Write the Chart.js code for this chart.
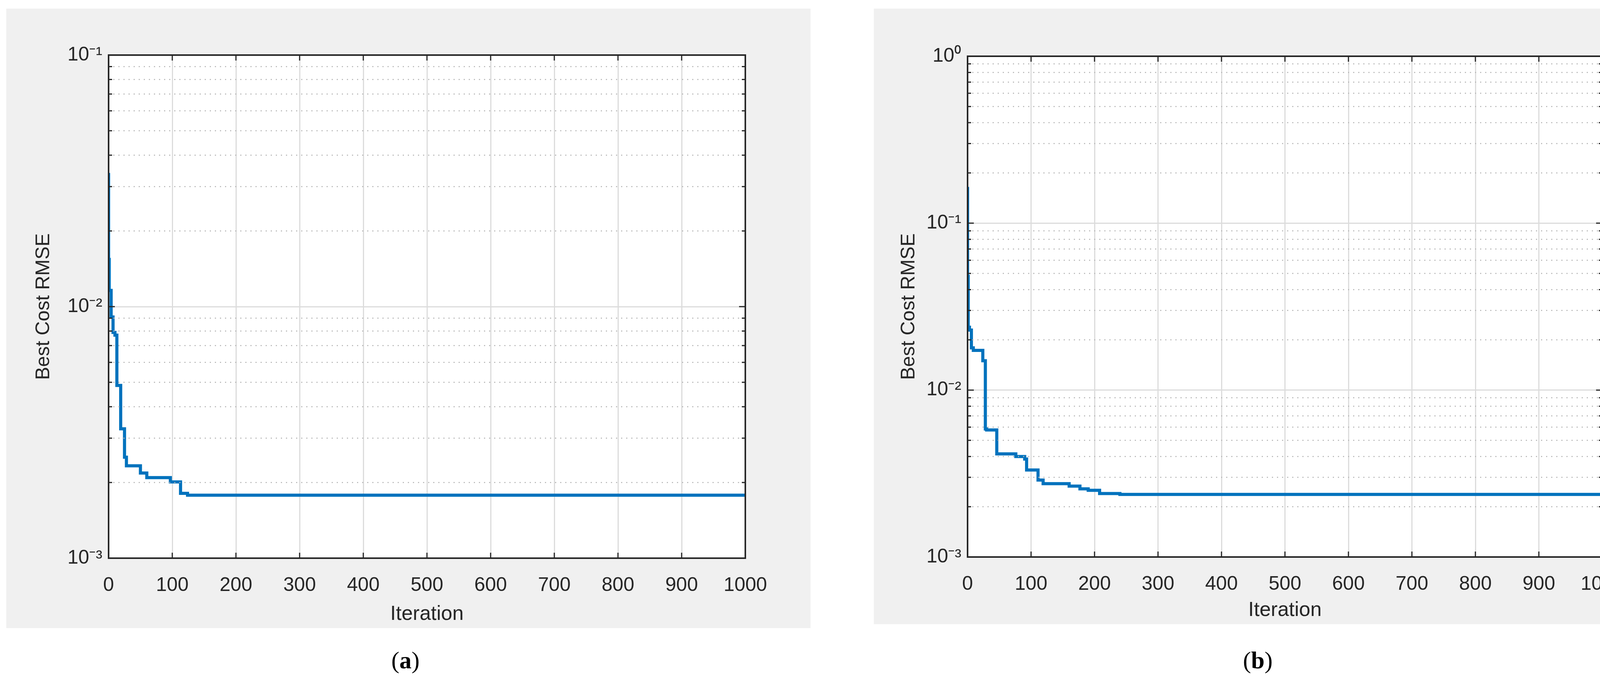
<!DOCTYPE html>
<html>
<head>
<meta charset="utf-8">
<script src="https://cdn.jsdelivr.net/npm/chart.js@4/dist/chart.umd.min.js"></script>
<style>
  html, body { margin: 0; padding: 0; background: #fff; width: 4226px; height: 1746px; overflow: hidden; }
  body { position: relative; }
  .panel { position: absolute; background: #f0f0f0; }
  .panel canvas { display: block; }
  .cap { position: absolute; font-family: "Liberation Serif", serif; font-size: 62px; transform: translateX(-50%); }
</style>
</head>
<body>
<div class="panel" style="left:16px;top:22px;width:2059px;height:1586px"><canvas id="ca" width="2059" height="1586" style="width:2059px;height:1586px"></canvas></div>
<div class="panel" style="left:2237px;top:22px;width:1968px;height:1576px"><canvas id="cb" width="1968" height="1576" style="width:1968px;height:1576px"></canvas></div>
<div class="cap" style="left:1038px;top:1655px">(<b>a</b>)</div>
<div class="cap" style="left:3220px;top:1655px">(<b>b</b>)</div>
<script>
// iteration at which each new best cost starts, and its value
let iterA = [0, 1, 4, 7, 10, 13, 19, 25, 28, 50, 60, 97, 113, 124, 208, 1000];
let costA = [0.034, 0.0154, 0.0116, 0.0091, 0.0079, 0.0077, 0.00486, 0.00327, 0.00252, 0.00233, 0.00218, 0.00209, 0.00201, 0.00181, 0.00178, 0.00178];

let iterB = [0, 1, 3, 6, 9, 24, 28, 30, 46, 76, 90, 93, 111, 119, 160, 177, 190, 208, 240, 340, 1000];
let costB = [0.165, 0.048, 0.0238, 0.0229, 0.0179, 0.0173, 0.0150, 0.00585, 0.00577, 0.00415, 0.00400, 0.00386, 0.00332, 0.00289, 0.00275, 0.00266, 0.00256, 0.00251, 0.00240, 0.00237, 0.00237];

let xTicks = [0, 100, 200, 300, 400, 500, 600, 700, 800, 900, 1000];
let sup = {"-3": "⁻³", "-2": "⁻²", "-1": "⁻¹", "0": "⁰"};

let whiteBg = {
    id: "whiteBg",
    beforeDraw(chart) {
        let a = chart.chartArea, ctx = chart.ctx;
        ctx.save();
        ctx.fillStyle = "#ffffff";
        ctx.fillRect(a.left, a.top, a.right - a.left, a.bottom - a.top);
        ctx.restore();
    }
};

let frame = {
    id: "frame",
    afterDraw(chart) {
        let ctx = chart.ctx, a = chart.chartArea;
        let ys = chart.scales.y, xs = chart.scales.x;
        let lo = Math.round(Math.log10(ys.min)), hi = Math.round(Math.log10(ys.max));
        ctx.save();
        // minor dotted grid
        ctx.strokeStyle = "#b4b4b4";
        ctx.lineWidth = 2.5;
        ctx.setLineDash([3, 10]);
        for (let d = lo; d < hi; d++) {
            for (let m = 2; m <= 9; m++) {
                let py = ys.getPixelForValue(m * Math.pow(10, d));
                ctx.beginPath(); ctx.moveTo(a.left + 12, py); ctx.lineTo(a.right, py); ctx.stroke();
            }
        }
        ctx.setLineDash([]);
        // box and inward ticks
        ctx.strokeStyle = "#262626";
        ctx.lineWidth = 4;
        ctx.strokeRect(a.left, a.top, a.right - a.left, a.bottom - a.top);
        ctx.lineWidth = 3;
        xTicks.forEach(v => {
            let px = xs.getPixelForValue(v);
            ctx.beginPath(); ctx.moveTo(px, a.bottom); ctx.lineTo(px, a.bottom - 14);
            ctx.moveTo(px, a.top); ctx.lineTo(px, a.top + 14); ctx.stroke();
        });
        for (let d = lo; d <= hi; d++) {
            for (let m = 1; m <= 9; m++) {
                if (d === hi && m > 1) break;
                let py = ys.getPixelForValue(m * Math.pow(10, d));
                let len = m === 1 ? 16 : 9;
                ctx.beginPath(); ctx.moveTo(a.left, py); ctx.lineTo(a.left + len, py);
                ctx.moveTo(a.right, py); ctx.lineTo(a.right - len, py); ctx.stroke();
            }
        }
        ctx.restore();
    }
};

function makeChart(id, iters, costs, yMin, yMax, pad, yw, xh) {
    let pts = iters.map((it, i) => ({x: it, y: costs[i]}));
    new Chart(document.getElementById(id), {
        type: "line",
        data: { datasets: [{ data: pts, borderColor: "#0072BD", borderWidth: 8, stepped: "after", pointRadius: 0, fill: false }] },
        options: {
            responsive: false, devicePixelRatio: 1, animation: false,
            layout: { padding: pad },
            plugins: { legend: { display: false }, tooltip: { enabled: false } },
            scales: {
                x: {
                    type: "linear", min: 0, max: 1000,
                    afterBuildTicks: s => { s.ticks = xTicks.map(v => ({value: v})); },
                    afterFit: s => { s.height = xh; },
                    grid: { color: "#dcdcdc", lineWidth: 3, drawTicks: false },
                    border: { display: false },
                    ticks: { color: "#262626", padding: 40, font: { family: "Liberation Sans Narrow, Liberation Sans", size: 50 }, callback: v => String(v) },
                    title: { display: true, text: "Iteration", color: "#262626", padding: { top: 22 }, font: { family: "Liberation Sans Narrow, Liberation Sans", size: 52 } }
                },
                y: {
                    type: "logarithmic", min: yMin, max: yMax,
                    afterBuildTicks: s => {
                        let t = [];
                        for (let d = Math.round(Math.log10(yMin)); d <= Math.round(Math.log10(yMax)); d++) t.push({value: Math.pow(10, d)});
                        s.ticks = t;
                    },
                    afterFit: s => { s.width = yw; },
                    grid: { color: "#dcdcdc", lineWidth: 3, drawTicks: false },
                    border: { display: false },
                    ticks: {
                        color: "#262626", padding: 16,
                        font: { family: "Liberation Sans Narrow, Liberation Sans", size: 50 },
                        callback: v => "10" + sup[String(Math.round(Math.log10(v)))]
                    },
                    title: { display: true, text: "Best Cost RMSE", color: "#262626", padding: { top: 0, bottom: 10 }, font: { family: "Liberation Sans", size: 50 } }
                }
            }
        },
        plugins: [whiteBg, frame]
    });
}

makeChart("ca", iterA, costA, 0.001, 0.1, { left: 66, top: 119, right: 167, bottom: 0 }, 196, 179);
makeChart("cb", iterB, costB, 0.001, 1, { left: 60, top: 122, right: 103, bottom: 0 }, 180, 172);
</script>
</body>
</html>
